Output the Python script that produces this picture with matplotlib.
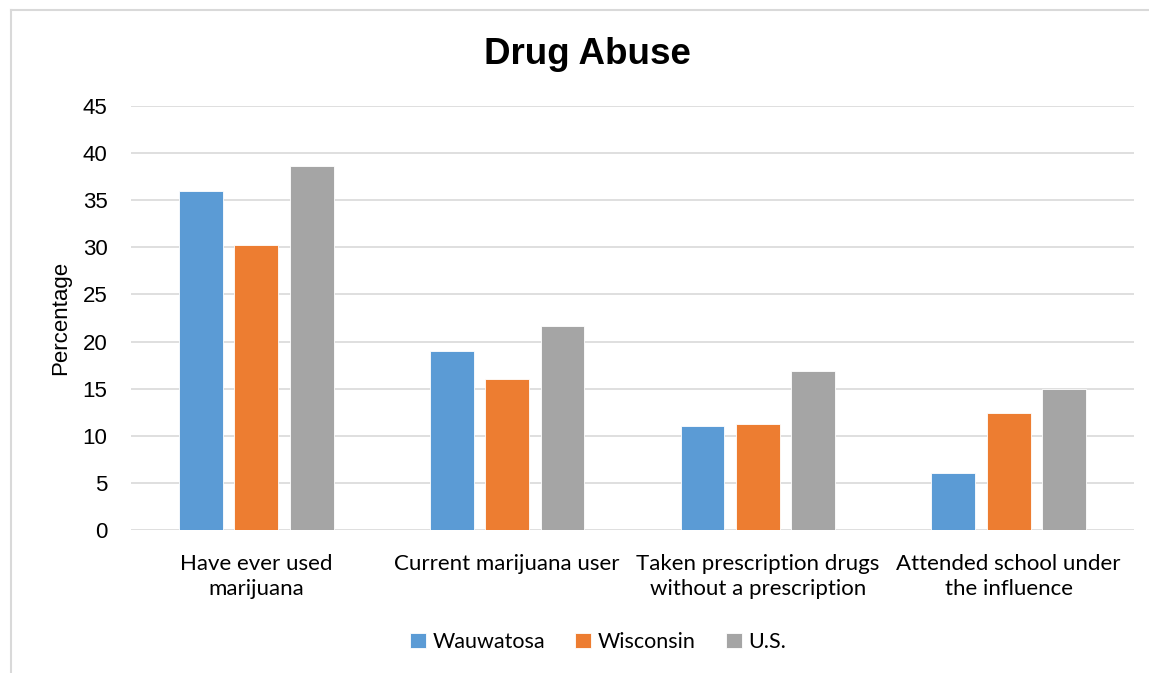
import matplotlib
matplotlib.use("Agg")
import matplotlib.pyplot as plt
from matplotlib.lines import Line2D
import numpy as np

categories = ["Have ever used\nmarijuana", "Current marijuana user",
              "Taken prescription drugs\nwithout a prescription",
              "Attended school under\nthe influence"]
series = ["Wauwatosa", "Wisconsin", "U.S."]
wauwatosa = [36, 19, 11, 6]
wisconsin = [30.2, 16, 11.2, 12.4]
us = [38.6, 21.7, 16.9, 15]
colors = ["#5B9BD5", "#ED7D31", "#A5A5A5"]

W, H = 1149, 673
fig = plt.figure(figsize=(W / 100, H / 100), dpi=100)
ax = fig.add_axes([131 / W, 1 - 530 / H, (1134 - 131) / W, (530 - 106) / H])

x = np.arange(len(categories))
width = 0.175
step = 0.221
for i, (vals, c, name) in enumerate(zip([wauwatosa, wisconsin, us], colors, series)):
    ax.bar(x + (i - 1) * step, vals, width, color=c, label=name,
           edgecolor="white", linewidth=0.6, zorder=3)

ax.set_xlim(-0.5, len(categories) - 0.5)
ax.set_ylim(0, 45)
ax.set_yticks(range(0, 46, 5))
ax.grid(axis="y", color="#D9D9D9", linewidth=1.2, zorder=0)
for s in ax.spines.values():
    s.set_visible(False)
ax.tick_params(axis="both", length=0)
ax.tick_params(axis="y", labelsize=16, pad=17)
for t in ax.get_yticklabels():
    t.set_fontfamily("Liberation Sans")
ax.set_xticks(x)
ax.set_xticklabels(categories, fontsize=16, fontfamily="Lato", linespacing=1.35)
ax.tick_params(axis="x", pad=17)
ax.set_ylabel("Percentage", fontsize=16, fontfamily="Liberation Sans", labelpad=8)

fig.text(587 / W, 1 - 54 / H, "Drug Abuse", fontsize=26.5, fontweight="bold",
         fontfamily="Liberation Sans", ha="center", va="center")

leg = fig.legend(loc="center", bbox_to_anchor=(598 / W, 1 - 642 / H), ncol=3,
                 frameon=False, prop={"family": "Lato", "size": 15.5},
                 handlelength=0.75, handleheight=0.75, handletextpad=0.3,
                 columnspacing=1.4)

# chart frame
fig.add_artist(Line2D([11 / W, 11 / W], [0, 1 - 10 / H], color="#D9D9D9", lw=1.5))
fig.add_artist(Line2D([11 / W, 1], [1 - 10 / H, 1 - 10 / H], color="#D9D9D9", lw=1.5))

fig.savefig("out.png", dpi=100, facecolor="white")
